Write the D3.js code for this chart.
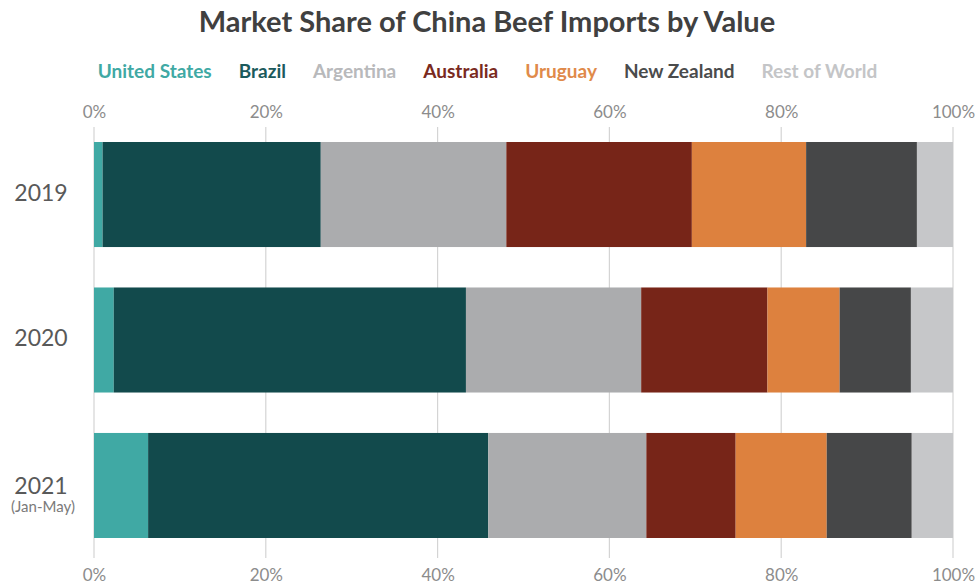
<!DOCTYPE html>
<html>
<head>
<meta charset="utf-8">
<script src="https://cdn.jsdelivr.net/npm/d3@7"></script>
<style>
  body { margin: 0; background: #fff; }
  svg { font-family: Lato, "Open Sans", sans-serif; }
</style>
</head>
<body>
<div id="chart"></div>
<script>
const years = ['2019', '2020', '2021'];
const yearNotes = ['', '', '(Jan-May)'];
const countries = ['United States', 'Brazil', 'Argentina', 'Australia', 'Uruguay', 'New Zealand', 'Rest of World'];
const colors = ['#40a9a4', '#124a4c', '#abacae', '#772518', '#dd813e', '#464748', '#c6c7c9'];
const legendColors = ['#40a9a4', '#1b5a5c', '#b8b9bb', '#7a2a1e', '#e08a4a', '#4a4b4c', '#c4c5c7'];
const share2019 = [1.0, 25.4, 21.6, 21.6, 13.3, 12.9, 4.2];
const share2020 = [2.3, 41.0, 20.4, 14.7, 8.4, 8.3, 4.9];
const share2021 = [6.3, 39.6, 18.4, 10.4, 10.6, 9.9, 4.8];
const tickValues = [0, 20, 40, 60, 80, 100];

const width = 978, height = 584;
const margin = {top: 129, right: 25, bottom: 27, left: 94};

const rows = years.map((y, i) => {
  const vals = [share2019, share2020, share2021][i];
  const row = {year: y, note: yearNotes[i]};
  countries.forEach((c, j) => row[c] = vals[j]);
  return row;
});

const stacked = d3.stack().keys(countries)(rows);

const svg = d3.select('#chart').append('svg')
  .attr('width', width)
  .attr('height', height);

const x = d3.scaleLinear()
  .domain([0, 100])
  .range([margin.left, 953]);

const y = d3.scaleBand()
  .domain(years)
  .range([142, 538])
  .paddingInner(0.278)
  .paddingOuter(0);

// title
svg.append('text')
  .attr('x', 487)
  .attr('y', 32)
  .attr('text-anchor', 'middle')
  .attr('font-size', 29)
  .attr('font-weight', 'bold')
  .attr('fill', '#404040')
  .text('Market Share of China Beef Imports by Value');

// legend
const legend = svg.append('g').attr('class', 'legend');
const items = legend.selectAll('text')
  .data(countries)
  .enter().append('text')
    .attr('y', 78)
    .attr('font-size', 19)
    .attr('font-weight', 'bold')
    .attr('fill', (d, i) => legendColors[i])
    .text(d => d);
let lx = 0;
items.each(function() {
  d3.select(this).attr('x', lx);
  lx += this.getComputedTextLength() + 27;
});
legend.attr('transform', `translate(${487.5 - (lx - 27) / 2},0)`);

// grid lines
svg.append('g')
  .selectAll('line')
  .data(tickValues)
  .enter().append('line')
    .attr('x1', d => x(d))
    .attr('x2', d => x(d))
    .attr('y1', margin.top - 2)
    .attr('y2', 558)
    .attr('stroke', '#d4d4d4')
    .attr('stroke-width', 1.2);

// axes
const fmt = d => d + '%';
const topAxis = svg.append('g')
  .attr('transform', `translate(0,${margin.top - 11})`)
  .call(d3.axisTop(x).tickValues(tickValues).tickFormat(fmt).tickSize(0).tickPadding(0));
const bottomAxis = svg.append('g')
  .attr('transform', `translate(0,${height - 15})`)
  .call(d3.axisBottom(x).tickValues(tickValues).tickFormat(fmt).tickSize(0).tickPadding(0));
[topAxis, bottomAxis].forEach(a => {
  a.select('.domain').remove();
  a.selectAll('text')
    .attr('font-family', 'Lato, "Open Sans", sans-serif')
    .attr('font-size', 17)
    .attr('fill', '#8c8c8c');
});

// bars
svg.append('g')
  .selectAll('g')
  .data(stacked)
  .enter().append('g')
    .attr('fill', (d, i) => colors[i])
  .selectAll('rect')
  .data(d => d)
  .enter().append('rect')
    .attr('x', d => x(d[0]))
    .attr('y', d => y(d.data.year))
    .attr('width', d => x(d[1]) - x(d[0]))
    .attr('height', y.bandwidth());

// year labels
const yl = svg.append('g')
  .selectAll('g')
  .data(rows)
  .enter().append('g');
yl.append('text')
  .attr('x', 41)
  .attr('y', d => y(d.year) + y.bandwidth() / 2 + (d.note ? 9 : 6))
  .attr('text-anchor', 'middle')
  .attr('font-size', 23)
  .attr('fill', '#595959')
  .text(d => d.year);
yl.filter(d => d.note)
  .append('text')
  .attr('x', 43)
  .attr('y', d => y(d.year) + y.bandwidth() / 2 + 27)
  .attr('text-anchor', 'middle')
  .attr('font-size', 15)
  .attr('fill', '#7a7a7a')
  .text(d => d.note);
</script>
</body>
</html>
